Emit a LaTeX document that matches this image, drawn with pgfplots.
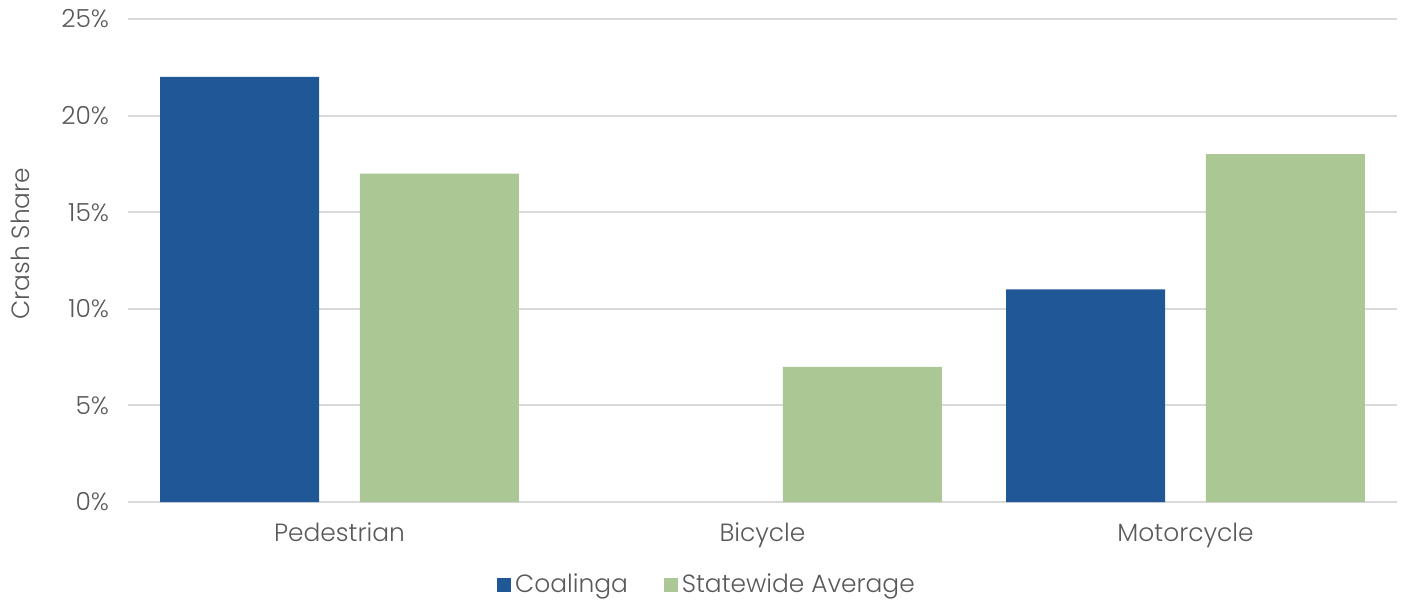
\documentclass[border=0pt]{standalone}
\usepackage{fontspec}
\setmainfont{Poppins}[UprightFont=* Light]
\usepackage{pgfplots}
\pgfplotsset{compat=1.18}
\definecolor{coalblue}{HTML}{1F5797}
\definecolor{stategreen}{HTML}{ABC794}
\definecolor{txtgray}{HTML}{595959}
\definecolor{gridgray}{HTML}{D9D9D9}
\begin{document}
\begin{tikzpicture}
\useasboundingbox (0,0) rectangle (702.5bp,300.5bp);
\begin{axis}[
  at={(64bp,49.5bp)}, anchor=south west,
  scale only axis,
  width=634.5bp, height=241.5bp,
  ybar,
  bar width=0.376,
  xmin=-0.5, xmax=2.5,
  ymin=0, ymax=25,
  xtick={0,1,2},
  xticklabels={Pedestrian,Bicycle,Motorcycle},
  ytick={0,5,10,15,20,25},
  yticklabel={\pgfmathprintnumber{\tick}\%},
  /pgf/number format/assume math mode=true,
  major tick length=0pt,
  axis line style={draw=none},
  ymajorgrids,
  grid style={gridgray, line width=1bp},
  tick label style={font=\fontsize{12.5}{15}\selectfont, text=txtgray},
  yticklabel style={xshift=-6bp},
  xticklabel style={yshift=-7bp},
  ylabel={Crash Share},
  every axis y label/.style={at={(axis description cs:0,0.535)}, xshift=-54bp, rotate=90, anchor=center,
    font=\fontsize{12.5}{15}\selectfont, text=txtgray},
  legend columns=2,
  legend style={at={(axis description cs:0.457,0)}, anchor=center, yshift=-41.5bp,
    draw=none, font=\fontsize{12.5}{15}\selectfont, text=txtgray,
    /tikz/every even column/.append style={column sep=16bp}},
  legend image code/.code={\fill[#1] (0bp,-3.5bp) rectangle (7bp,3.5bp);},
  clip=false,
]
\draw[gridgray, line width=1bp] (axis cs:-0.5,0) -- (axis cs:2.5,0);
% Coalinga has no bicycle share (0%)
\addplot[fill=coalblue, draw=none, bar shift=-0.236] coordinates {(0,22) (2,11)};
\addplot[fill=stategreen, draw=none, bar shift=0.236] coordinates {(0,17) (1,7) (2,18)};
\legend{Coalinga, Statewide Average}
\end{axis}
\end{tikzpicture}
\end{document}
